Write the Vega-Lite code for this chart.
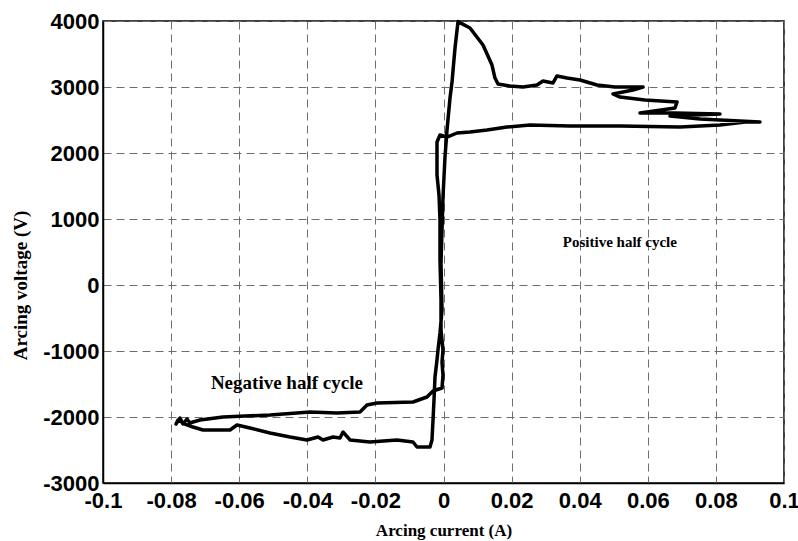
{
  "$schema": "https://vega.github.io/schema/vega-lite/v6.json",
  "width": 681,
  "height": 462,
  "autosize": {"type": "none"},
  "padding": {"left": 103, "top": 21, "right": 14, "bottom": 58},
  "background": "white",
  "config": {
    "view": {"stroke": "black", "strokeWidth": 1.5},
    "axis": {
      "grid": true,
      "gridColor": "#6e6e6e",
      "gridDash": [8, 5],
      "gridWidth": 1,
      "gridOpacity": 1,
      "domainColor": "black",
      "domainWidth": 1.5,
      "ticks": false,
      "labelFont": "Liberation Sans",
      "labelFontWeight": "bold",
      "labelFontSize": 22,
      "labelColor": "black",
      "titleFont": "Liberation Serif",
      "titleFontWeight": "bold",
      "titleColor": "black"
    }
  },
  "datasets": {
    "trace": [
      {"i": 1, "current": -0.00044, "voltage": -1561},
      {"i": 2, "current": -0.00015, "voltage": -1364},
      {"i": 3, "current": -0.00044, "voltage": -1167},
      {"i": 4, "current": -0.00015, "voltage": -985},
      {"i": 5, "current": -0.00073, "voltage": -682},
      {"i": 6, "current": -0.00073, "voltage": -227},
      {"i": 7, "current": -0.00103, "voltage": 379},
      {"i": 8, "current": -0.00103, "voltage": 985},
      {"i": 9, "current": -0.00132, "voltage": 1364},
      {"i": 10, "current": -0.00191, "voltage": 1667},
      {"i": 11, "current": -0.00191, "voltage": 1970},
      {"i": 12, "current": -0.00191, "voltage": 2167},
      {"i": 13, "current": -0.00103, "voltage": 2273},
      {"i": 14, "current": 0.00103, "voltage": 2242},
      {"i": 15, "current": 0.00396, "voltage": 2303},
      {"i": 16, "current": 0.00778, "voltage": 2318},
      {"i": 17, "current": 0.01278, "voltage": 2348},
      {"i": 18, "current": 0.01865, "voltage": 2394},
      {"i": 19, "current": 0.0254, "voltage": 2424},
      {"i": 20, "current": 0.03715, "voltage": 2409},
      {"i": 21, "current": 0.05184, "voltage": 2409},
      {"i": 22, "current": 0.06946, "voltage": 2394},
      {"i": 23, "current": 0.0812, "voltage": 2424},
      {"i": 24, "current": 0.08855, "voltage": 2470},
      {"i": 25, "current": 0.09295, "voltage": 2470},
      {"i": 26, "current": 0.07533, "voltage": 2515},
      {"i": 27, "current": 0.06652, "voltage": 2561},
      {"i": 28, "current": 0.0812, "voltage": 2591},
      {"i": 29, "current": 0.06799, "voltage": 2606},
      {"i": 30, "current": 0.05771, "voltage": 2606},
      {"i": 31, "current": 0.06799, "voltage": 2682},
      {"i": 32, "current": 0.06858, "voltage": 2773},
      {"i": 33, "current": 0.05918, "voltage": 2803},
      {"i": 34, "current": 0.05184, "voltage": 2848},
      {"i": 35, "current": 0.04978, "voltage": 2894},
      {"i": 36, "current": 0.05565, "voltage": 2955},
      {"i": 37, "current": 0.05859, "voltage": 3000},
      {"i": 38, "current": 0.05037, "voltage": 3000},
      {"i": 39, "current": 0.04508, "voltage": 3030},
      {"i": 40, "current": 0.04009, "voltage": 3106},
      {"i": 41, "current": 0.03627, "voltage": 3136},
      {"i": 42, "current": 0.03333, "voltage": 3167},
      {"i": 43, "current": 0.03216, "voltage": 3061},
      {"i": 44, "current": 0.02922, "voltage": 3091},
      {"i": 45, "current": 0.02746, "voltage": 3030},
      {"i": 46, "current": 0.02335, "voltage": 3000},
      {"i": 47, "current": 0.01953, "voltage": 3015},
      {"i": 48, "current": 0.01601, "voltage": 3045},
      {"i": 49, "current": 0.01512, "voltage": 3136},
      {"i": 50, "current": 0.01424, "voltage": 3333},
      {"i": 51, "current": 0.0116, "voltage": 3636},
      {"i": 52, "current": 0.00778, "voltage": 3894},
      {"i": 53, "current": 0.00426, "voltage": 3990},
      {"i": 54, "current": 0.00338, "voltage": 3591},
      {"i": 55, "current": 0.0025, "voltage": 3076},
      {"i": 56, "current": 0.00191, "voltage": 2833},
      {"i": 57, "current": 0.00103, "voltage": 2348},
      {"i": 58, "current": 0.00044, "voltage": 1939},
      {"i": 59, "current": -0.00015, "voltage": 1333},
      {"i": 60, "current": -0.00044, "voltage": 833},
      {"i": 61, "current": -0.00073, "voltage": 333},
      {"i": 62, "current": -0.00044, "voltage": -379},
      {"i": 63, "current": -0.00103, "voltage": -727},
      {"i": 64, "current": -0.00162, "voltage": -985},
      {"i": 65, "current": -0.00191, "voltage": -1136},
      {"i": 66, "current": -0.0025, "voltage": -1394},
      {"i": 67, "current": -0.00279, "voltage": -1742},
      {"i": 68, "current": -0.00308, "voltage": -2045},
      {"i": 69, "current": -0.00338, "voltage": -2348},
      {"i": 70, "current": -0.00396, "voltage": -2455},
      {"i": 71, "current": -0.00778, "voltage": -2455},
      {"i": 72, "current": -0.00896, "voltage": -2379},
      {"i": 73, "current": -0.01366, "voltage": -2348},
      {"i": 74, "current": -0.02159, "voltage": -2379},
      {"i": 75, "current": -0.02746, "voltage": -2348},
      {"i": 76, "current": -0.02952, "voltage": -2227},
      {"i": 77, "current": -0.0304, "voltage": -2318},
      {"i": 78, "current": -0.03245, "voltage": -2303},
      {"i": 79, "current": -0.03539, "voltage": -2348},
      {"i": 80, "current": -0.03686, "voltage": -2303},
      {"i": 81, "current": -0.04009, "voltage": -2348},
      {"i": 82, "current": -0.04508, "voltage": -2303},
      {"i": 83, "current": -0.05096, "voltage": -2242},
      {"i": 84, "current": -0.05683, "voltage": -2167},
      {"i": 85, "current": -0.06065, "voltage": -2121},
      {"i": 86, "current": -0.0627, "voltage": -2197},
      {"i": 87, "current": -0.07063, "voltage": -2197},
      {"i": 88, "current": -0.07357, "voltage": -2152},
      {"i": 89, "current": -0.07592, "voltage": -2106},
      {"i": 90, "current": -0.07797, "voltage": -2045},
      {"i": 91, "current": -0.07856, "voltage": -2106},
      {"i": 92, "current": -0.07739, "voltage": -2015},
      {"i": 93, "current": -0.07651, "voltage": -2106},
      {"i": 94, "current": -0.07533, "voltage": -2030},
      {"i": 95, "current": -0.07445, "voltage": -2091},
      {"i": 96, "current": -0.07357, "voltage": -2076},
      {"i": 97, "current": -0.07151, "voltage": -2045},
      {"i": 98, "current": -0.06476, "voltage": -2000},
      {"i": 99, "current": -0.05096, "voltage": -1970},
      {"i": 100, "current": -0.03921, "voltage": -1924},
      {"i": 101, "current": -0.03128, "voltage": -1939},
      {"i": 102, "current": -0.02452, "voltage": -1924},
      {"i": 103, "current": -0.02247, "voltage": -1818},
      {"i": 104, "current": -0.01953, "voltage": -1788},
      {"i": 105, "current": -0.00896, "voltage": -1773},
      {"i": 106, "current": -0.00485, "voltage": -1697},
      {"i": 107, "current": -0.00308, "voltage": -1606},
      {"i": 108, "current": -0.00044, "voltage": -1561}
    ],
    "notes": [
      {"current": 0.0518, "voltage": 651, "label": "Positive half cycle", "size": 15},
      {"current": -0.046, "voltage": -1485, "label": "Negative half cycle", "size": 19}
    ]
  },
  "layer": [
    {
      "data": {"name": "trace"},
      "mark": {"type": "line", "color": "black", "strokeWidth": 3.5, "strokeJoin": "round", "strokeCap": "round"},
      "encoding": {
        "x": {
          "field": "current",
          "type": "quantitative",
          "scale": {"domain": [-0.1, 0.1], "nice": false, "zero": false},
          "axis": {
            "title": "Arcing current (A)",
            "titleFontSize": 17,
            "values": [-0.1, -0.08, -0.06, -0.04, -0.02, 0, 0.02, 0.04, 0.06, 0.08, 0.1],
            "labelExpr": "datum.value === 0 ? '0' : replace(format(datum.value, '.2~f'), '−', '-')",
            "labelPadding": 7,
            "titlePadding": 11,
            "labelOverlap": false,
            "labelFlush": false
          }
        },
        "y": {
          "field": "voltage",
          "type": "quantitative",
          "scale": {"domain": [-3000, 4000], "nice": false, "zero": false},
          "axis": {
            "title": "Arcing voltage (V)",
            "titleFontSize": 19,
            "titleY": 264,
            "values": [-3000, -2000, -1000, 0, 1000, 2000, 3000, 4000],
            "labelExpr": "replace(format(datum.value, 'd'), '−', '-')",
            "labelPadding": 4,
            "titlePadding": 12,
            "labelOverlap": false,
            "labelFlush": false
          }
        },
        "order": {"field": "i", "type": "quantitative"}
      }
    },
    {
      "data": {"name": "notes"},
      "mark": {"type": "text", "font": "Liberation Serif", "fontWeight": "bold", "color": "black"},
      "encoding": {
        "x": {"field": "current", "type": "quantitative"},
        "y": {"field": "voltage", "type": "quantitative"},
        "text": {"field": "label"},
        "size": {"field": "size", "type": "quantitative", "scale": null, "legend": null}
      }
    }
  ]
}
